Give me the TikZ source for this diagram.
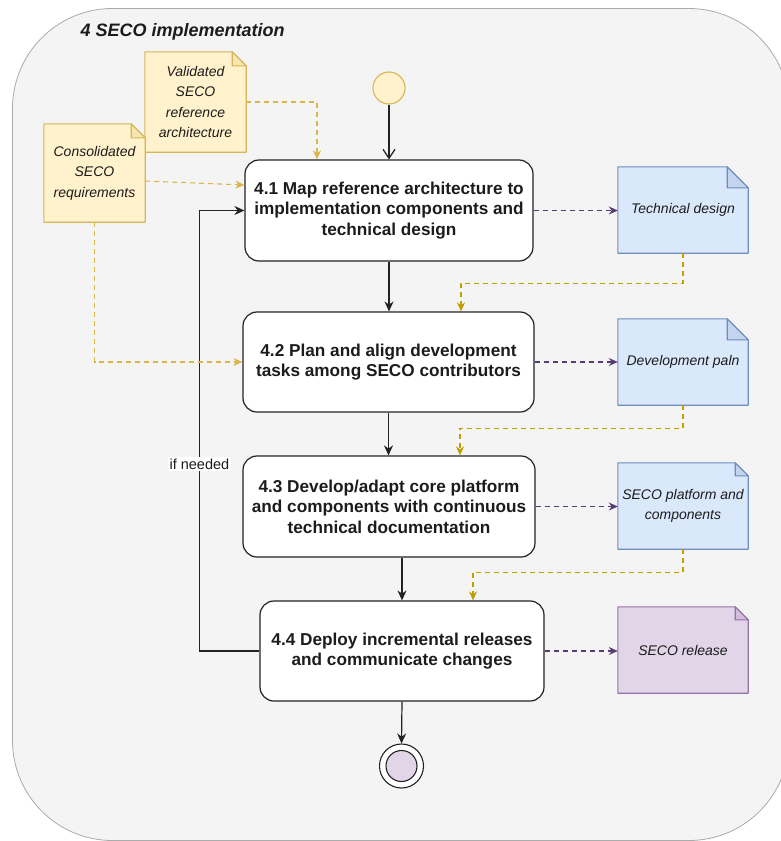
\documentclass[tikz,border=0pt]{standalone}
\usepackage{fontspec}
\setmainfont{Liberation Sans}
\usetikzlibrary{arrows.meta}
\pgfdeclarelayer{bg}
\pgfdeclarelayer{notes}
\pgfsetlayers{bg,notes,main}

\definecolor{panelfill}{HTML}{F4F4F4}
\definecolor{panelline}{HTML}{ABABAB}
\definecolor{ylwfill}{HTML}{FFF2CC}
\definecolor{ylwline}{HTML}{D6B656}
\definecolor{bluefill}{HTML}{DAE8FC}
\definecolor{blueline}{HTML}{6C8EBF}
\definecolor{purpfill}{HTML}{E1D5E7}
\definecolor{purpline}{HTML}{9673A6}
\definecolor{goldflow}{HTML}{BFA000}
\definecolor{inflow}{HTML}{DDB64A}
\definecolor{outflow}{HTML}{563D76}
\definecolor{boxline}{HTML}{222222}
\definecolor{ink}{HTML}{1C1C1C}

% folded-corner outline behind a note node
\newcommand{\dogear}[4]{%
  \begin{pgfonlayer}{notes}
    \filldraw[fill=#3,draw=#4,line width=1.1pt,line join=round]
      (#1.north west) -- ([xshift=-#2]#1.north east) -- ([yshift=-#2]#1.north east)
      -- (#1.south east) -- (#1.south west) -- cycle;
    \filldraw[fill=#4!22!#3,draw=#4,line width=1.1pt,line join=round]
      ([xshift=-#2]#1.north east) -- ([xshift=-#2,yshift=-#2]#1.north east)
      -- ([yshift=-#2]#1.north east) -- cycle;
  \end{pgfonlayer}}

\tikzset{
  every node/.style={text=ink},
  stepbox/.style={draw=boxline,fill=white,line width=1.2pt,rounded corners=14pt,
    inner sep=0pt,align=center,font=\fontsize{17.2}{20.5}\selectfont\bfseries},
  notebox/.style={inner sep=0pt,align=center,font=\fontsize{14}{20.5}\selectfont\itshape},
  flow/.style={draw=boxline,line width=1.2pt,-{Stealth[length=10pt,width=9pt]}},
  inarrow/.style={draw=inflow,line width=1.1pt,dash pattern=on 5pt off 4pt,
    -{Stealth[length=9pt,width=8pt]}},
  goldarrow/.style={draw=goldflow,line width=1.1pt,dash pattern=on 5pt off 4pt,
    -{Stealth[length=9pt,width=8pt]}},
  outarrow/.style={draw=outflow,line width=1.1pt,dash pattern=on 5pt off 4pt,
    -{Stealth[length=9pt,width=8pt]}},
}

\begin{document}
\begin{tikzpicture}[x=1pt,y=-1pt]
  \useasboundingbox (0,0) rectangle (781,841);

  % page and swimlane panel
  \begin{pgfonlayer}{bg}
    \fill[white] (0,0) rectangle (781,841);
    \filldraw[fill=panelfill,draw=panelline,line width=0.8pt,rounded corners=100pt]
      (12.5,8.5) rectangle (789,840.5);
  \end{pgfonlayer}
  \node[anchor=base west,font=\fontsize{18}{20}\selectfont\bfseries\itshape]
    (title) at (77,36) {4 SECO implementation};

  % start and end
  \node[circle,draw=ylwline,fill=ylwfill,line width=1.1pt,minimum size=32pt,inner sep=0pt]
    (start) at (389,88) {};
  \node[circle,draw=boxline,fill=white,line width=1.1pt,minimum size=44pt,inner sep=0pt]
    (endo) at (401.5,766) {};
  \node[circle,draw=boxline,fill=purpfill,line width=1.1pt,minimum size=31pt,inner sep=0pt]
    (endi) at (401.5,766) {};

  % activities
  \node[stepbox,minimum width=288pt,minimum height=101pt] (b41) at (389,210.5)
    {4.1 Map reference architecture to\\implementation components and\\technical design};
  \node[stepbox,minimum width=291pt,minimum height=100pt] (b42) at (388.5,362)
    {4.2 Plan and align development\\tasks among SECO contributors};
  \node[stepbox,minimum width=292pt,minimum height=101pt] (b43) at (389,506.5)
    {4.3 Develop/adapt core platform\\and components with continuous\\technical documentation};
  \node[stepbox,minimum width=284pt,minimum height=100pt] (b44) at (402,651)
    {4.4 Deploy incremental releases\\and communicate changes};

  % input notes
  \node[notebox,minimum width=101pt,minimum height=100pt] (val) at (195.5,102)
    {Validated\\SECO\\reference\\architecture};
  \dogear{val}{14pt}{ylwfill}{ylwline}
  \node[notebox,minimum width=101pt,minimum height=98pt] (cons) at (94.5,173)
    {Consolidated\\SECO\\requirements};
  \dogear{cons}{14pt}{ylwfill}{ylwline}

  % output notes
  \node[notebox,minimum width=130pt,minimum height=86pt] (td) at (683,210)
    {Technical design};
  \dogear{td}{21pt}{bluefill}{blueline}
  \node[notebox,minimum width=130pt,minimum height=86pt] (dp) at (683,362)
    {Development paln};
  \dogear{dp}{21pt}{bluefill}{blueline}
  \node[notebox,minimum width=130pt,minimum height=86pt] (pc) at (683,506)
    {SECO platform and\\components};
  \dogear{pc}{13pt}{bluefill}{blueline}
  \node[notebox,minimum width=130pt,minimum height=86pt] (rel) at (683,650)
    {SECO release};
  \dogear{rel}{13pt}{purpfill}{purpline}

  % control flow
  \draw[draw=boxline,line width=1.2pt,-{Straight Barb[length=9pt,width=12pt]}]
    (start.south) -- (b41.north);
  \draw[flow] (b41.south) -- (b41.south |- b42.north);
  \draw[flow] (b42.south) -- (b42.south |- b43.north);
  \draw[flow] (b44.north |- b43.south) -- (b44.north);
  \draw[flow] (b44.south) -- (endo.north);
  \draw[flow] (b44.west) -- ++(-60,0) |- (b41.west)
    node[pos=0.212,fill=white,inner sep=1.5pt,font=\fontsize{14.5}{16}\selectfont] (ifn) {if needed};

  % inputs into the activities
  \draw[inarrow] (val.east) -| ([xshift=-72pt]b41.north);
  \draw[inarrow] ([yshift=-8pt]cons.east) -- ([yshift=25.5pt]b41.west);
  \draw[inarrow] (cons.south) |- (b42.west);

  % produced artefacts
  \draw[outarrow] (b41.east) -- (b41.east -| td.west);
  \draw[outarrow] (b42.east) -- (b42.east -| dp.west);
  \draw[outarrow] (b43.east) -- (b43.east -| pc.west);
  \draw[outarrow] (b44.east) -- (b44.east -| rel.west);

  % artefacts feeding the next activity
  \draw[goldarrow] (td.south) -- ++(0,30) -| ([xshift=72.5pt]b42.north);
  \draw[goldarrow] (dp.south) -- ++(0,23) -| ([xshift=71pt]b43.north);
  \draw[goldarrow] (pc.south) -- ++(0,23) -| ([xshift=71pt]b44.north);
\end{tikzpicture}
\end{document}
